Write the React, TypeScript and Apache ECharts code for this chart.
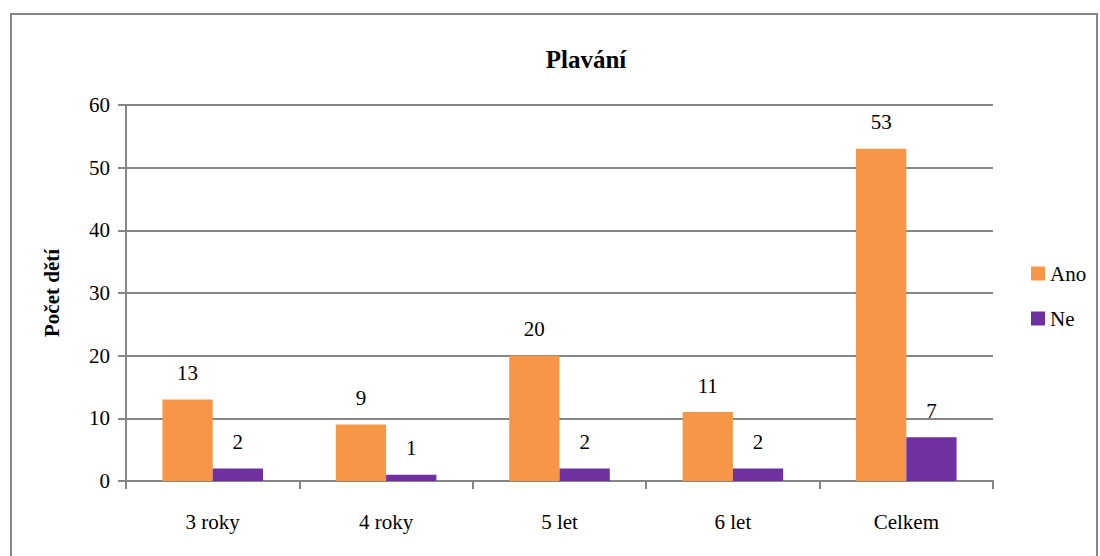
import React, { useEffect, useRef } from "react";
import * as echarts from "echarts";

const categories = ["3 roky", "4 roky", "5 let", "6 let", "Celkem"];
const anoValues = [13, 9, 20, 11, 53];
const neValues = [2, 1, 2, 2, 7];
const seriesNames = ["Ano", "Ne"];
const titleText = "Plavání";
const yAxisName = "Počet dětí";

const FONT = "Times New Roman, Liberation Serif, DejaVu Serif, serif";

export default function App() {
  const ref = useRef<HTMLDivElement>(null);
  useEffect(() => {
    if (!ref.current) return;
    const chart = echarts.init(ref.current, undefined, { renderer: "svg" });
    const labelStyle = {
      show: true,
      position: "top",
      distance: 16,
      fontFamily: FONT,
      fontSize: 21,
      color: "#000",
    };
    chart.setOption({
      animation: false,
      backgroundColor: "#fff",
      textStyle: { fontFamily: FONT },
      title: {
        text: titleText,
        left: 581,
        textAlign: "center",
        top: 42,
        textStyle: { fontFamily: FONT, fontSize: 25, fontWeight: "bold", color: "#000" },
      },
      graphic: [
        {
          type: "rect",
          shape: { x: 11, y: 14, width: 1086, height: 570 },
          style: { fill: "none", stroke: "#868686", lineWidth: 2 },
          silent: true,
        },
      ],
      legend: {
        orient: "vertical",
        left: 1026,
        top: 258,
        itemWidth: 14,
        itemHeight: 14,
        itemGap: 24,
        icon: "rect",
        textStyle: { fontFamily: FONT, fontSize: 21, color: "#000" },
        data: seriesNames,
      },
      grid: { left: 126, right: 107, top: 105, bottom: 75 },
      xAxis: {
        type: "category",
        data: categories,
        axisLine: { lineStyle: { color: "#868686", width: 2 } },
        axisTick: { show: true, length: 8, alignWithLabel: false, lineStyle: { color: "#868686", width: 2 } },
        axisLabel: { fontFamily: FONT, fontSize: 21, color: "#000", margin: 30 },
      },
      yAxis: {
        type: "value",
        min: 0,
        max: 60,
        interval: 10,
        name: yAxisName,
        nameLocation: "middle",
        nameGap: 64,
        nameTextStyle: { fontFamily: FONT, fontSize: 21, fontWeight: "bold", color: "#000" },
        axisLine: { show: true, lineStyle: { color: "#868686", width: 2 } },
        axisTick: { show: true, length: 8, lineStyle: { color: "#868686", width: 2 } },
        splitLine: { lineStyle: { color: "#868686", width: 2 } },
        axisLabel: { fontFamily: FONT, fontSize: 21, color: "#000", margin: 16 },
      },
      series: [
        {
          name: seriesNames[0],
          type: "bar",
          data: anoValues,
          itemStyle: { color: "#F79646" },
          barGap: "0%",
          barCategoryGap: "42%",
          label: labelStyle,
        },
        {
          name: seriesNames[1],
          type: "bar",
          data: neValues,
          itemStyle: { color: "#7030A0" },
          barGap: "0%",
          barCategoryGap: "42%",
          label: labelStyle,
        },
      ],
    });
    return () => chart.dispose();
  }, []);
  return (
    <div
      ref={ref}
      style={{ position: "absolute", left: 0, top: 0, width: 1100, height: 556 }}
    />
  );
}
